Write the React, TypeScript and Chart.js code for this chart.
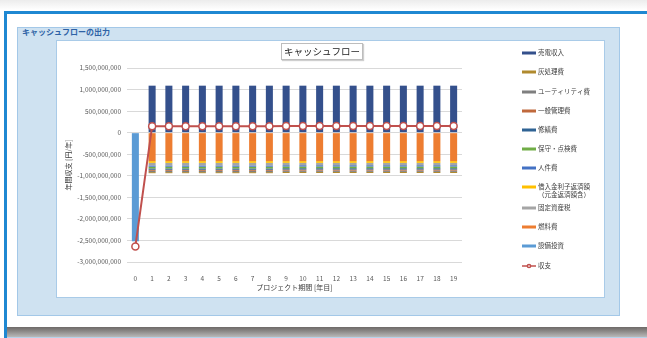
import React, { useEffect, useRef } from "react";
import { Chart, registerables } from "chart.js";

Chart.register(...registerables);

const years = ["0","1","2","3","4","5","6","7","8","9","10","11","12","13","14","15","16","17","18","19"];

// values in yen
const baiden = [0,1090000000,1090000000,1090000000,1090000000,1090000000,1090000000,1090000000,1090000000,1090000000,1090000000,1090000000,1090000000,1090000000,1090000000,1090000000,1090000000,1090000000,1090000000,1090000000];
const haishori = [0,-25000000,-25000000,-25000000,-25000000,-25000000,-25000000,-25000000,-25000000,-25000000,-25000000,-25000000,-25000000,-25000000,-25000000,-25000000,-25000000,-25000000,-25000000,-25000000];
const utility = [0,-30000000,-30000000,-30000000,-30000000,-30000000,-30000000,-30000000,-30000000,-30000000,-30000000,-30000000,-30000000,-30000000,-30000000,-30000000,-30000000,-30000000,-30000000,-30000000];
const ippan = [0,-25000000,-25000000,-25000000,-25000000,-25000000,-25000000,-25000000,-25000000,-25000000,-25000000,-25000000,-25000000,-25000000,-25000000,-25000000,-25000000,-25000000,-25000000,-25000000];
const shuzen = [0,-30000000,-30000000,-30000000,-30000000,-30000000,-30000000,-30000000,-30000000,-30000000,-30000000,-30000000,-30000000,-30000000,-30000000,-30000000,-30000000,-30000000,-30000000,-30000000];
const hoshu = [0,-40000000,-40000000,-40000000,-40000000,-40000000,-40000000,-40000000,-40000000,-40000000,-40000000,-40000000,-40000000,-40000000,-40000000,-40000000,-40000000,-40000000,-40000000,-40000000];
const jinken = [0,-30000000,-30000000,-30000000,-30000000,-30000000,-30000000,-30000000,-30000000,-30000000,-30000000,-30000000,-30000000,-30000000,-30000000,-30000000,-30000000,-30000000,-30000000,-30000000];
const kariire = [0,-40000000,-40000000,-40000000,-40000000,-40000000,-40000000,-40000000,-40000000,-40000000,-40000000,-40000000,-40000000,-40000000,-40000000,-40000000,-40000000,-40000000,-40000000,-40000000];
const kotei = [0,-60000000,-60000000,-60000000,-60000000,-60000000,-60000000,-60000000,-60000000,-55000000,-55000000,-55000000,-55000000,-55000000,-55000000,-55000000,-55000000,-55000000,-55000000,-55000000];
const nenryo = [0,-660000000,-660000000,-660000000,-660000000,-660000000,-660000000,-660000000,-660000000,-660000000,-660000000,-660000000,-660000000,-660000000,-660000000,-660000000,-660000000,-660000000,-660000000,-660000000];
const setsubi = [-2520000000,0,0,0,0,0,0,0,0,0,0,0,0,0,0,0,0,0,0,0];
const shushi = [-2640000000,150000000,150000000,150000000,150000000,150000000,150000000,150000000,150000000,155000000,155000000,155000000,155000000,155000000,155000000,155000000,155000000,155000000,155000000,155000000];

const yTicks = [1500000000,1000000000,500000000,0,-500000000,-1000000000,-1500000000,-2000000000,-2500000000,-3000000000];

const FONT = "'Noto Sans CJK JP', 'Noto Sans', sans-serif";

type Item = { label: string[]; color: string; line?: boolean };

const legendItems: Item[] = [
  { label: ["売電収入"], color: "#34508c" },
  { label: ["灰処理費"], color: "#b08a2e" },
  { label: ["ユーティリティ費"], color: "#7f7f7f" },
  { label: ["一般管理費"], color: "#c0693c" },
  { label: ["修繕費"], color: "#2f6394" },
  { label: ["保守・点検費"], color: "#70ad47" },
  { label: ["人件費"], color: "#4472c4" },
  { label: ["借入金利子返済額", "（元金返済額含）"], color: "#ffc000" },
  { label: ["固定資産税"], color: "#a5a5a5" },
  { label: ["燃料費"], color: "#ed7d31" },
  { label: ["設備投資"], color: "#5b9bd5" },
  { label: ["収支"], color: "#c0504d", line: true },
];
const legendY = [13, 32, 52, 71, 90, 109, 128, 147, 168, 187, 206, 226];

const legendPlugin = {
  id: "sideLegend",
  afterDraw(chart: any) {
    const ctx = chart.ctx;
    ctx.save();
    ctx.font = `6.5px ${FONT}`;
    ctx.textBaseline = "middle";
    legendItems.forEach((it, i) => {
      const y = legendY[i];
      if (it.line) {
        ctx.strokeStyle = it.color;
        ctx.lineWidth = 1.5;
        ctx.beginPath();
        ctx.moveTo(466, y);
        ctx.lineTo(480, y);
        ctx.stroke();
        ctx.fillStyle = "#fff";
        ctx.beginPath();
        ctx.arc(473, y, 1.6, 0, Math.PI * 2);
        ctx.fill();
        ctx.stroke();
      } else {
        ctx.fillStyle = it.color;
        ctx.fillRect(466, y - 1.5, 14, 3);
      }
      ctx.fillStyle = "#404040";
      it.label.forEach((t, j) => ctx.fillText(t, 482, y + j * 8));
    });
    ctx.restore();
  },
};

export default function App() {
  const ref = useRef<HTMLCanvasElement>(null);
  useEffect(() => {
    if (!ref.current) return;
    const bar = (label: string, data: number[], color: string) => ({
      type: "bar" as const,
      label,
      data,
      backgroundColor: color,
      stack: "s",
      order: 1,
      barPercentage: 0.42,
      categoryPercentage: 1,
    });
    const chart = new Chart(ref.current, {
      type: "bar",
      data: {
        labels: years,
        datasets: [
          bar("設備投資", setsubi, "#5b9bd5"),
          bar("燃料費", nenryo, "#ed7d31"),
          bar("借入金利子返済額（元金返済額含）", kariire, "#ffc000"),
          bar("固定資産税", kotei, "#a5a5a5"),
          bar("人件費", jinken, "#4472c4"),
          bar("保守・点検費", hoshu, "#70ad47"),
          bar("修繕費", shuzen, "#2f6394"),
          bar("一般管理費", ippan, "#c0693c"),
          bar("ユーティリティ費", utility, "#7f7f7f"),
          bar("灰処理費", haishori, "#b08a2e"),
          bar("売電収入", baiden, "#34508c"),
          {
            type: "line" as const,
            label: "収支",
            data: shushi,
            stack: "line",
            order: 0,
            borderColor: "#c0504d",
            borderWidth: 2,
            pointRadius: 3.5,
            pointBorderWidth: 1.5,
            pointBackgroundColor: "#ffffff",
            pointBorderColor: "#c0504d",
            tension: 0,
          } as any,
        ],
      },
      options: {
        animation: false,
        responsive: false,
        maintainAspectRatio: false,
        layout: { padding: { left: 0, right: 143, top: 28, bottom: 6 } },
        plugins: { legend: { display: false }, tooltip: { enabled: false }, title: { display: false } },
        scales: {
          x: {
            stacked: true,
            offset: true,
            grid: { display: false },
            border: { display: false },
            ticks: { color: "#595959", font: { size: 6.5, family: FONT }, padding: 5, maxRotation: 0, autoSkip: false },
            title: { display: true, text: "プロジェクト期間 [年目]", color: "#404040", font: { size: 7, family: FONT }, padding: { top: 1, bottom: 0 } },
            afterFit(scale: any) { scale.height = 30; },
          },
          y: {
            stacked: true,
            min: -3000000000,
            max: 1500000000,
            afterBuildTicks(scale: any) { scale.ticks = yTicks.map((v) => ({ value: v })); },
            grid: { color: "#d9d9d9", lineWidth: 1, drawTicks: false },
            border: { display: false },
            ticks: {
              color: "#595959",
              font: { size: 6.5, family: FONT },
              padding: 6,
              callback: (v: any) => Number(v).toLocaleString("en-US"),
            },
            title: { display: true, text: "年間収支 [円/年]", color: "#404040", font: { size: 7, family: FONT }, padding: { top: 8, bottom: 0 } },
            afterFit(scale: any) { scale.width = 71; },
          },
        },
      },
      plugins: [legendPlugin],
    } as any);
    return () => chart.destroy();
  }, []);

  return (
    <div style={{ position: "absolute", left: 0, top: 0, width: 647, height: 338, background: "#ffffff", overflow: "hidden", fontFamily: FONT }}>
      <div style={{ position: "absolute", left: 0, top: 0, width: 647, height: 10, background: "linear-gradient(#ececec,#ffffff)" }} />
      <div style={{ position: "absolute", left: 4, top: 11, width: 643, height: 3, background: "#1f88d2" }} />
      <div style={{ position: "absolute", left: 4, top: 11, width: 3, height: 327, background: "#1f88d2" }} />
      <div style={{ position: "absolute", left: 17, top: 27, width: 601, height: 287, background: "#cfe2f1", border: "1px solid #a3c8e8" }} />
      <div style={{ position: "absolute", left: 22, top: 26, fontSize: 8, fontWeight: "bold", color: "#2e62a6", whiteSpace: "nowrap" }}>キャッシュフローの出力</div>
      <div style={{ position: "absolute", left: 56, top: 40, width: 547, height: 256, background: "#ffffff", border: "1px solid #a9cbe8" }} />
      <canvas ref={ref} width={549} height={258} style={{ position: "absolute", left: 56, top: 40, width: 549, height: 258 }} />
      <div style={{ position: "absolute", left: 281, top: 43, width: 80, height: 15, border: "1px solid #bdbdbd", background: "#fff", boxShadow: "1px 1px 1px #cfcfcf", fontSize: 9.5, lineHeight: "15px", textAlign: "center", color: "#222", whiteSpace: "nowrap", overflow: "hidden" }}>キャッシュフロー</div>
      <div style={{ position: "absolute", left: 7, top: 327, width: 640, height: 10, background: "linear-gradient(#6e6a68,#8a8785 40%,#b9b9b9)" }} />
      <div style={{ position: "absolute", left: 7, top: 337, width: 640, height: 1, background: "#b6d2ea" }} />
    </div>
  );
}
